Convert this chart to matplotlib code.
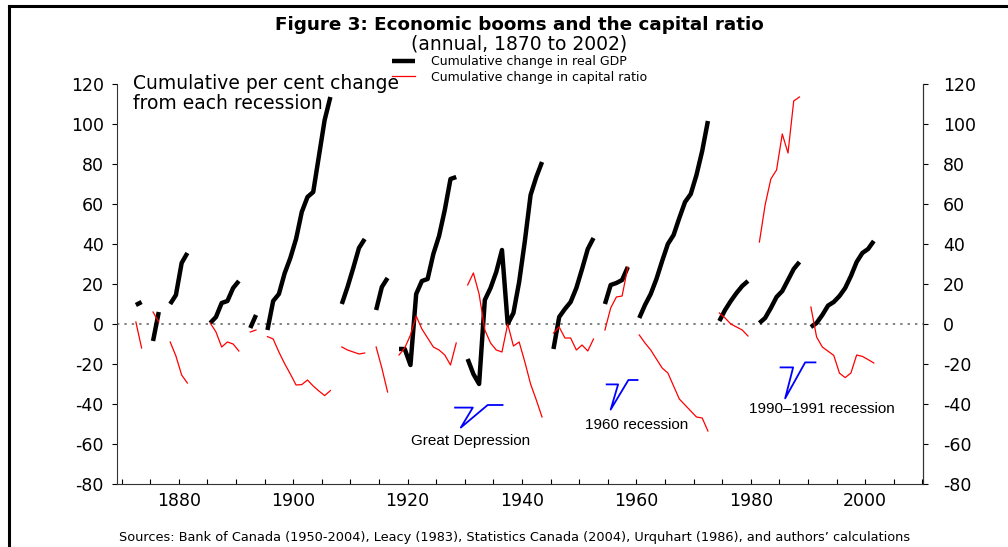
import numpy as np
import matplotlib
matplotlib.use("Agg")
import matplotlib.pyplot as plt
from matplotlib.lines import Line2D
from matplotlib.ticker import MultipleLocator

plt.rcParams['font.family'] = ['DejaVu Sans']
plt.rcParams['axes.unicode_minus'] = False

# first year of each post-recession path
start_years = [1872, 1875, 1878, 1885, 1892, 1895, 1908, 1914, 1918,
               1930, 1945, 1954, 1960, 1974, 1981, 1990]

# cumulative per cent change in real GDP (one list per recession)
gdp_paths = [
    [9.5, 11],
    [-8.5, 6],
    [10, 14.5, 30.5, 35.5],
    [0.5, 3.5, 10.5, 11.5, 18, 21.5],
    [-2, 4.5],
    [-3, 11.5, 15, 25.3, 33, 42.5, 56, 63.5, 66, 84, 102, 113.5],
    [10, 18.5, 28, 38, 42.5],
    [7, 18.5, 23],
    [-12.5, -12.5, -20.5, 15, 21.5, 22.5, 35, 44, 57, 72.5, 73.5],
    [-17.5, -25, -30, 12, 18, 26, 37, 0, 5.5, 21, 41.5, 64.5, 73.5, 81],
    [-12.5, 3.5, 7.5, 11, 18, 27.5, 37.5, 43],
    [10, 19.5, 20.5, 22, 28.5],
    [3, 9.5, 15, 22.5, 31.5, 40, 44.5, 53, 61, 65, 74.5, 86.5, 101.5],
    [1.5, 7, 11.5, 15.5, 19, 21.5],
    [0.5, 3, 8, 13.5, 16.5, 22, 27.5, 31],
    [-1.5, 0.5, 4.5, 9.2, 11, 14, 18, 24, 31, 35.5, 37.5, 41.5],
]

# cumulative change in the capital ratio
capital_paths = [
    [1, -12],
    [6, 1],
    [-9, -16, -25.5, -29.5],
    [0.5, -4, -11.5, -9, -10, -13.5],
    [-4, -3],
    [-6.3, -7.5, -14, -19.8, -25, -30.5, -30.3, -28, -31, -33.5, -35.8, -33.3],
    [-11.5, -13, -14, -15, -14.5],
    [-11.5, -22, -34],
    [-15.5, -12, -5.5, 4, -2.5, -7, -11.5, -13, -15.5, -20.5, -9.5],
    [19.5, 25.5, 15, -3, -9.5, -13, -14, 0, -11, -9, -19, -30, -38, -46.5],
    [-4.5, -1.5, -7, -7, -13, -10.5, -13.5, -7.5],
    [-3, 8, 13.5, 14, 28.5],
    [-5.5, -9.5, -13, -17.5, -22, -24.5, -31, -37.5, -40.5, -43.5, -46.5, -47, -53.5],
    [5.5, 3, 0, -1.5, -3, -6],
    [41, 59.5, 72.5, 77, 95, 85.5, 111.5, 113.5],
    [8.5, -6.5, -11.5, -13.6, -15.7, -24.6, -26.8, -24.5, -15.5, -16.2, -17.8, -19.5],
]

# recession labels and their blue pointer shapes (data coords)
labels = ['Great Depression', '1960 recession', '1990\u20131991 recession']
label_pos = [(1931.0, -58.5), (1960.0, -50.5), (1992.4, -42.5)]
pointers = [
    [(1928.3, -41.8), (1931.4, -41.8), (1929.3, -51.8), (1934.0, -40.5), (1936.6, -40.5)],
    [(1954.8, -30.2), (1956.8, -30.2), (1955.5, -42.8), (1958.6, -28.0), (1960.2, -28.0)],
    [(1985.2, -21.7), (1987.4, -21.7), (1986.0, -37.2), (1989.5, -19.2), (1991.3, -19.2)],
]

W, H = 1008, 547
fig = plt.figure(figsize=(W / 100, H / 100), dpi=100)
ax = fig.add_axes([117 / W, 1 - 484 / H, 806 / W, 400 / H])

ax.axhline(0, color='#808080', lw=1.4, dashes=(1.2, 2.6), zorder=1)

for yr0, g, c in zip(start_years, gdp_paths, capital_paths):
    x = np.arange(yr0, yr0 + len(g)) + 0.5   # plotted at mid-year
    ax.plot(x, g, color='black', lw=3.2, solid_capstyle='butt', zorder=2)
    ax.plot(x, c, color='red', lw=0.9, zorder=3)

for pts in pointers:
    px, py = zip(*pts)
    ax.plot(px, py, color='blue', lw=1.3, zorder=3)
for txt, (tx, ty) in zip(labels, label_pos):
    ax.text(tx, ty, txt, ha='center', va='center', fontsize=11,
            family=['Liberation Sans', 'DejaVu Sans'])

ax.set_xlim(1869.2, 2010.1)
ax.set_ylim(-80, 120)
ax.xaxis.set_major_locator(MultipleLocator(20))
ax.xaxis.set_minor_locator(MultipleLocator(5))
ax.yaxis.set_major_locator(MultipleLocator(20))
ax.spines['top'].set_visible(False)
for s in ['left', 'right', 'bottom']:
    ax.spines[s].set_linewidth(0.8)
    ax.spines[s].set_color('#333333')
ax.tick_params(axis='x', which='both', direction='in', length=3.5, width=0.8,
               labelsize=12.5, pad=6)
ax.tick_params(axis='y', direction='out', length=3.5, width=0.8,
               labelsize=12.5, pad=6)

# right-hand copy of the y axis
sec = ax.secondary_yaxis('right')
sec.yaxis.set_major_locator(MultipleLocator(20))
sec.spines['right'].set_linewidth(0.8)
sec.spines['right'].set_color('#333333')
sec.tick_params(direction='out', length=3.5, width=0.8, labelsize=12.5, pad=11)

fig.text(133 / W, 1 - 74 / H, 'Cumulative per cent change\nfrom each recession',
         ha='left', va='top', fontsize=13.5, linespacing=1.05)

fig.text(519 / W, 1 - 25 / H, 'Figure 3: Economic booms and the capital ratio',
         ha='center', va='center', fontsize=13.2, fontweight='bold')
fig.text(519 / W, 1 - 44 / H, '(annual, 1870 to 2002)',
         ha='center', va='center', fontsize=13.5)

handles = [Line2D([], [], color='black', lw=3.2, solid_capstyle='butt'),
           Line2D([], [], color='red', lw=0.9)]
fig.legend(handles, ['Cumulative change in real GDP', 'Cumulative change in capital ratio'],
           loc='upper left', bbox_to_anchor=(392 / W, 1 - 55 / H), frameon=False,
           fontsize=9, handlelength=1.84, handletextpad=1.28, labelspacing=0.22,
           borderpad=0, borderaxespad=0)

fig.text(515 / W, 1 - 537 / H,
         'Sources: Bank of Canada (1950-2004), Leacy (1983), Statistics Canada (2004), '
         'Urquhart (1986), and authors\u2019 calculations',
         ha='center', va='center', fontsize=9.25)

# frame drawn around the figure (top and left edges visible)
fig.add_artist(Line2D([8.5 / W, 1.0], [1 - 6 / H] * 2, transform=fig.transFigure,
                      color='black', lw=2.2))
fig.add_artist(Line2D([8.5 / W] * 2, [0.0, 1 - 6 / H], transform=fig.transFigure,
                      color='black', lw=2.2))

fig.savefig('out.png', dpi=100)
